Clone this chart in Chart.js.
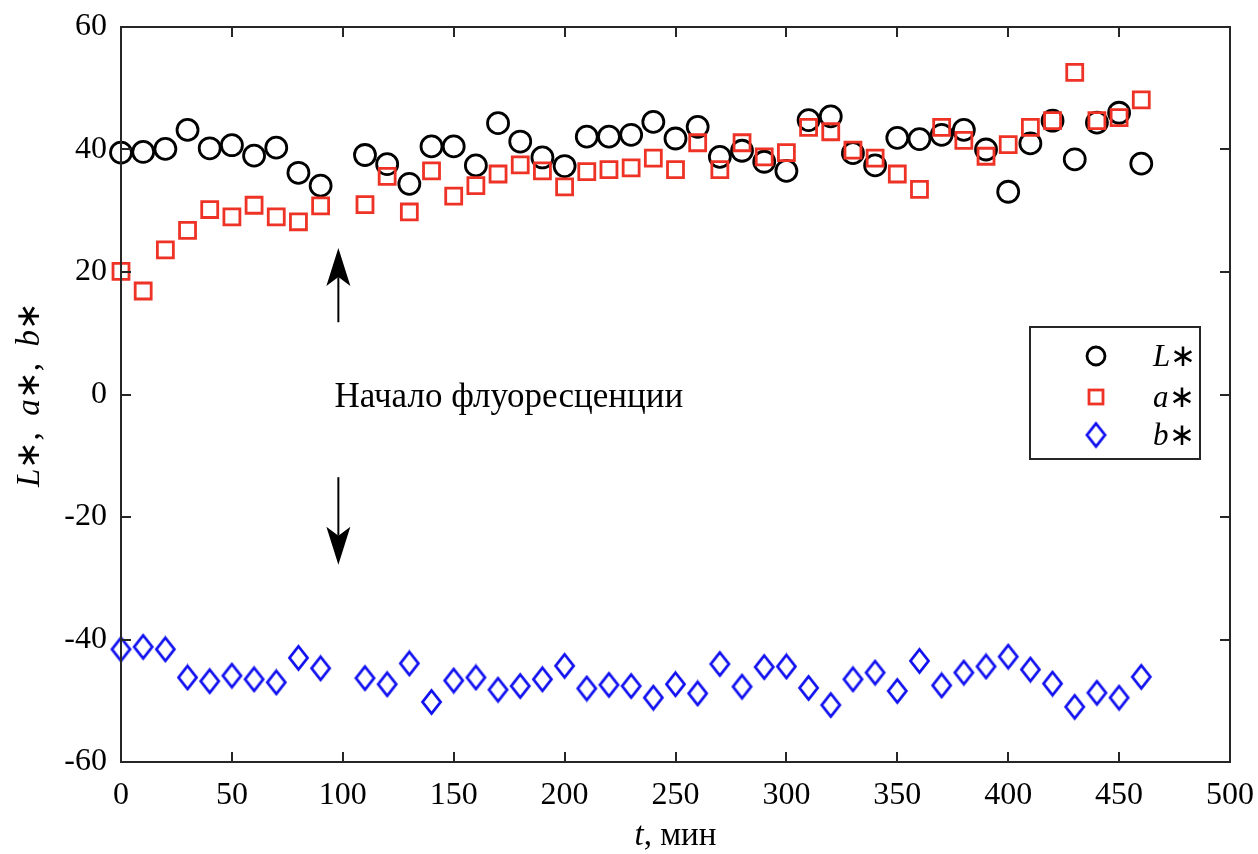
<!DOCTYPE html>
<html>
<head>
<meta charset="utf-8">
<script src="https://cdn.jsdelivr.net/npm/chart.js@4.4.1/dist/chart.umd.min.js"></script>
<style>
  html, body { margin: 0; padding: 0; background: #ffffff; }
  #wrap { width: 1258px; height: 854px; }
</style>
</head>
<body>
<div id="wrap"><canvas id="c" width="1258" height="854"></canvas></div>
<script>
// Sampling times, min (no sample at 100 min)
const times = [0, 10, 20, 30, 40, 50, 60, 70, 80, 90,
  110, 120, 130, 140, 150, 160, 170, 180, 190, 200,
  210, 220, 230, 240, 250, 260, 270, 280, 290, 300,
  310, 320, 330, 340, 350, 360, 370, 380, 390, 400,
  410, 420, 430, 440, 450, 460];

// CIELAB lightness L*
const lStar = [39.5, 39.6, 40.1, 43.2, 40.2, 40.7, 39.0, 40.3, 36.2, 34.1,
  39.1, 37.6, 34.4, 40.5, 40.5, 37.4, 44.3, 41.3, 38.7, 37.3,
  42.1, 42.1, 42.4, 44.5, 41.8, 43.7, 38.8, 39.8, 38.0, 36.5,
  44.8, 45.4, 39.4, 37.4, 41.9, 41.7, 42.4, 43.2, 40.0, 33.1,
  41.0, 44.7, 38.4, 44.4, 46.0, 37.7];

// CIELAB a* (green–red)
const aStar = [20.1, 16.9, 23.6, 26.8, 30.2, 29.0, 30.9, 29.0, 28.2, 30.8,
  31.0, 35.6, 29.8, 36.5, 32.4, 34.1, 36.0, 37.5, 36.5, 33.9,
  36.4, 36.7, 37.0, 38.6, 36.7, 41.1, 36.7, 41.1, 38.8, 39.5,
  43.6, 42.9, 39.9, 38.6, 36.0, 33.5, 43.6, 41.5, 38.9, 40.8,
  43.6, 44.7, 52.6, 44.7, 45.2, 48.1];

// CIELAB b* (blue–yellow)
const bStar = [-41.6, -41.2, -41.6, -46.2, -46.8, -45.9, -46.5, -47.0, -43.0, -44.7,
  -46.3, -47.3, -43.9, -50.2, -46.7, -46.2, -48.2, -47.6, -46.5, -44.3,
  -48.0, -47.4, -47.6, -49.5, -47.3, -48.8, -44.0, -47.7, -44.5, -44.4,
  -47.9, -50.7, -46.5, -45.4, -48.4, -43.5, -47.5, -45.4, -44.4, -42.8,
  -44.9, -47.2, -51.0, -48.7, -49.5, -46.1];

// Axis ticks
const xTicks = [0, 50, 100, 150, 200, 250, 300, 350, 400, 450, 500];
const yTicks = [-60, -40, -20, 0, 20, 40, 60];

// Fluorescence onset marker: time and arrow spans (y values)
const onsetTime = 98;
const arrowUp = [11.8, 23.9];
const arrowDown = [-13.5, -27.8];
const onsetLabel = 'Начало флуоресценции';
const onsetLabelAt = [96.3, -0.6];

const SERIF = '"Liberation Serif", "Times New Roman", serif';
const C_L = '#000000';
const C_A = '#ee3326';
const C_B = '#1010f0';

// Tall open diamond marker for b*
function makeDiamond(w, h, lw, color) {
  const cv = document.createElement('canvas');
  cv.width = Math.ceil(w + lw + 2);
  cv.height = Math.ceil(h + lw + 2);
  const g = cv.getContext('2d');
  const cx = cv.width / 2, cy = cv.height / 2;
  g.strokeStyle = color;
  g.lineWidth = lw;
  g.lineJoin = 'miter';
  g.beginPath();
  g.moveTo(cx, cy - h / 2);
  g.lineTo(cx + w / 2, cy);
  g.lineTo(cx, cy + h / 2);
  g.lineTo(cx - w / 2, cy);
  g.closePath();
  g.stroke();
  return cv;
}
const diamond = makeDiamond(18, 23, 2.8, C_B);

function pts(ys) {
  return times.map((t, i) => ({ x: t, y: ys[i] }));
}

// Draw a run of text pieces with mixed font styles, centred on (cx, cy)
function drawRich(ctx, pieces, cx, cy, size, baseline) {
  let total = 0;
  const widths = pieces.map(p => {
    ctx.font = `${p[1]} ${size}px ${SERIF}`;
    const w = ctx.measureText(p[0]).width;
    total += w;
    return w;
  });
  let x = cx - total / 2;
  ctx.textAlign = 'left';
  ctx.textBaseline = baseline || 'alphabetic';
  pieces.forEach((p, i) => {
    ctx.font = `${p[1]} ${size}px ${SERIF}`;
    ctx.fillText(p[0], x, cy);
    x += widths[i];
  });
}

function drawArrow(ctx, x, y0, y1) {
  // y0: tail pixel, y1: tip pixel
  const dir = Math.sign(y1 - y0);
  const headLen = 38, headHalf = 12, notch = 9;
  ctx.strokeStyle = '#000';
  ctx.fillStyle = '#000';
  ctx.lineWidth = 2;
  ctx.beginPath();
  ctx.moveTo(x, y0);
  ctx.lineTo(x, y1 - dir * (headLen - notch));
  ctx.stroke();
  ctx.beginPath();
  ctx.moveTo(x, y1);
  ctx.lineTo(x + headHalf, y1 - dir * headLen);
  ctx.lineTo(x, y1 - dir * (headLen - notch));
  ctx.lineTo(x - headHalf, y1 - dir * headLen);
  ctx.closePath();
  ctx.fill();
}

const framePlugin = {
  id: 'frame',
  afterDatasetsDraw(chart) {
    const { ctx, chartArea: a, scales } = chart;
    const xs = scales.x, ys = scales.y;
    ctx.save();
    // box
    ctx.strokeStyle = '#262626';
    ctx.lineWidth = 2;
    ctx.strokeRect(a.left, a.top, a.right - a.left, a.bottom - a.top);
    // inward ticks on all four sides
    const tl = 10;
    ctx.beginPath();
    xTicks.forEach(v => {
      const px = Math.round(xs.getPixelForValue(v));
      ctx.moveTo(px, a.bottom); ctx.lineTo(px, a.bottom - tl);
      ctx.moveTo(px, a.top); ctx.lineTo(px, a.top + tl);
    });
    yTicks.forEach(v => {
      const py = Math.round(ys.getPixelForValue(v));
      ctx.moveTo(a.left, py); ctx.lineTo(a.left + tl, py);
      ctx.moveTo(a.right, py); ctx.lineTo(a.right - tl, py);
    });
    ctx.stroke();

    // onset arrows and label
    const ax = xs.getPixelForValue(onsetTime);
    drawArrow(ctx, ax, ys.getPixelForValue(arrowUp[0]), ys.getPixelForValue(arrowUp[1]));
    drawArrow(ctx, ax, ys.getPixelForValue(arrowDown[0]), ys.getPixelForValue(arrowDown[1]));
    ctx.fillStyle = '#000';
    ctx.font = `normal 35px ${SERIF}`;
    ctx.textAlign = 'left';
    ctx.textBaseline = 'middle';
    ctx.fillText(onsetLabel, xs.getPixelForValue(onsetLabelAt[0]), ys.getPixelForValue(onsetLabelAt[1]));

    // axis titles
    drawRich(ctx, [['t', 'italic'], [', мин', 'normal']], (a.left + a.right) / 2, 845, 33);
    ctx.save();
    ctx.translate(30, (a.top + a.bottom) / 2);
    ctx.rotate(-Math.PI / 2);
    drawRich(ctx, [['L', 'italic'], ['∗,  ', 'normal'], ['a', 'italic'], ['∗,  ', 'normal'], ['b', 'italic'], ['∗', 'normal']], 0, 0, 33, 'middle');
    ctx.restore();

    // legend box
    const lx = a.right - 200, ly = a.top + 300, lw = 170, lh = 132;
    ctx.fillStyle = '#fff';
    ctx.fillRect(lx, ly, lw, lh);
    ctx.strokeStyle = '#262626';
    ctx.lineWidth = 2;
    ctx.strokeRect(lx, ly, lw, lh);
    const mx = lx + 66;
    const rows = [
      { y: ly + 29, label: 'L', style: 'circle', color: C_L },
      { y: ly + 70, label: 'a', style: 'rect', color: C_A },
      { y: ly + 108, label: 'b', style: 'diamond', color: C_B }
    ];
    rows.forEach(r => {
      ctx.lineWidth = 2.8;
      ctx.strokeStyle = r.color;
      if (r.style === 'circle') {
        ctx.beginPath(); ctx.arc(mx, r.y, 9, 0, Math.PI * 2); ctx.stroke();
      } else if (r.style === 'rect') {
        ctx.strokeRect(mx - 7, r.y - 7, 14, 14);
      } else {
        ctx.drawImage(diamond, mx - diamond.width / 2, r.y - diamond.height / 2);
      }
      ctx.fillStyle = '#000';
      ctx.textAlign = 'left';
      ctx.textBaseline = 'alphabetic';
      ctx.font = `italic 31px ${SERIF}`;
      ctx.fillText(r.label, lx + 123, r.y + 10);
      const w = ctx.measureText(r.label).width;
      ctx.font = `normal 31px ${SERIF}`;
      ctx.fillText('∗', lx + 123 + w, r.y + 10);
    });
    ctx.restore();
  }
};

new Chart(document.getElementById('c'), {
  type: 'scatter',
  data: {
    datasets: [
      { label: 'L*', data: pts(lStar), pointStyle: 'circle', pointRadius: 10.5,
        borderColor: C_L, backgroundColor: 'rgba(0,0,0,0)', pointBorderWidth: 2.8, clip: false, order: 3 },
      { label: 'a*', data: pts(aStar), pointStyle: 'rect', pointRadius: 11.3,
        borderColor: C_A, backgroundColor: 'rgba(0,0,0,0)', pointBorderWidth: 2.8, clip: false, order: 2 },
      { label: 'b*', data: pts(bStar), pointStyle: diamond, pointRadius: 12,
        borderColor: C_B, backgroundColor: 'rgba(0,0,0,0)', pointBorderWidth: 2.8, clip: false, order: 1 }
    ]
  },
  options: {
    responsive: false,
    animation: false,
    events: [],
    layout: { padding: { left: 0, right: 28, top: 27, bottom: 0 } },
    plugins: { legend: { display: false }, tooltip: { enabled: false } },
    scales: {
      x: {
        type: 'linear', min: 0, max: 500,
        afterFit: s => { s.height = 92; s.paddingLeft = 0; s.paddingRight = 0; },
        afterBuildTicks: s => { s.ticks = xTicks.map(v => ({ value: v })); },
        grid: { display: false, drawTicks: false },
        border: { display: false },
        ticks: { color: '#000', font: { family: SERIF, size: 32 }, padding: 14, maxRotation: 0, autoSkip: false }
      },
      y: {
        type: 'linear', min: -60, max: 60,
        afterFit: s => { s.width = 121; s.paddingTop = 0; s.paddingBottom = 0; },
        afterBuildTicks: s => { s.ticks = yTicks.map(v => ({ value: v })); },
        grid: { display: false, drawTicks: false },
        border: { display: false },
        ticks: { color: '#000', font: { family: SERIF, size: 32 }, padding: 14 }
      }
    }
  },
  plugins: [framePlugin]
});
</script>
</body>
</html>
